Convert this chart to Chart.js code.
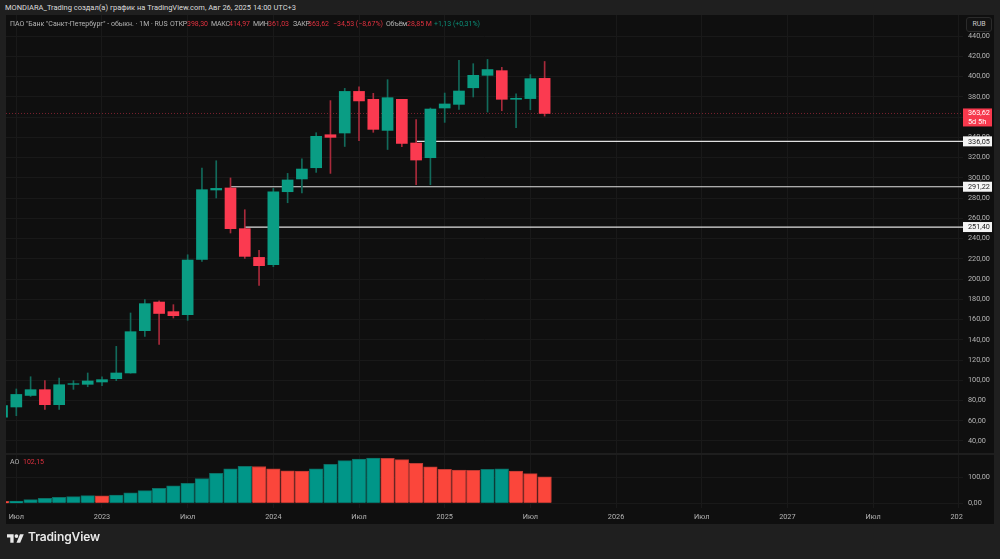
<!DOCTYPE html>
<html lang="ru">
<head>
<meta charset="utf-8">
<title>BSPB 1M</title>
<script src="https://cdn.jsdelivr.net/npm/chart.js@4"></script>
<style>
  html, body { margin: 0; background: #1f1f1f; overflow: hidden; }
  body { width: 1000px; height: 559px; position: relative; font-family: Roboto, sans-serif; }
  #panel { position: absolute; left: 6px; top: 15px; width: 988px; height: 509px; background: #0f0f0f; }
  #panel canvas { position: absolute; left: 0; top: 0; }
  .txt { position: absolute; white-space: nowrap; font-size: 7px; line-height: 10px; }
  .dim { color: #b4b4b4; }
  .cap { letter-spacing: -0.2px; }
  .red { color: #e0313f; }
  .grn { color: #0b8f78; }
  #byline { left: 5px; top: 3px; color: #dcdcdc; font-size: 7.5px; }
  #rub { position: absolute; left: 960px; top: 2px; width: 26px; height: 15px; box-sizing: border-box;
         border: 1px solid #2b2b2b; border-radius: 3px; background: #121212; color: #c8c8c8;
         font-size: 7px; line-height: 13px; text-align: center; }
  #brand { position: absolute; left: 7px; top: 530px; display: flex; align-items: center; color: #e8e8e8;
           font: 600 12px/14px Inter, sans-serif; letter-spacing: -0.1px; }
  #brand svg { width: 17px; height: 11px; margin-right: 4px; fill: #e8e8e8; }
</style>
</head>
<body>
<div class="txt" id="byline">MONDIARA_Trading создал(а) график на TradingView.com, Авг 26, 2025 14:00 UTC+3</div>
<div id="panel">
  <canvas id="chart" width="988" height="509"></canvas>
  <div class="txt dim" style="left:4px;top:4px">ПАО "Банк "Санкт-Петербург" - обыкн. · 1М · RUS</div>
  <div class="txt dim cap" style="left:164px;top:4px">ОТКР</div><div class="txt red" style="left:181px;top:4px">398,30</div>
  <div class="txt dim cap" style="left:205px;top:4px">МАКС</div><div class="txt red" style="left:223px;top:4px">414,97</div>
  <div class="txt dim cap" style="left:247px;top:4px">МИН</div><div class="txt red" style="left:262px;top:4px">361,03</div>
  <div class="txt dim cap" style="left:287px;top:4px">ЗАКР</div><div class="txt red" style="left:302px;top:4px">363,62</div>
  <div class="txt red" style="left:327px;top:4px">−34,53 (−8,67%)</div>
  <div class="txt dim cap" style="left:380px;top:4px">Объём</div><div class="txt red" style="left:401px;top:4px">28,85 М</div>
  <div class="txt grn" style="left:428px;top:4px">+1,13 (+0,31%)</div>
  <div class="txt dim" style="left:4px;top:442px">AO</div><div class="txt red" style="left:17px;top:442px">102,15</div>
  <div id="rub">RUB</div>
</div>
<div id="brand">
  <svg viewBox="0 0 36 22"><path d="M14 22H7V11H0V4h14v18ZM28 22h-8l7.5-18h8L28 22Z"/><circle cx="20" cy="8" r="4"/></svg>
  TradingView
</div>

<script>
(function() {
  'use strict';

  // monthly candles, Jun 2022 .. Aug 2025
  var opens  = [63.5, 73.6, 85, 90.7, 75.9, 96, 96, 98.3, 101.6, 107.2, 149, 177.3, 167.8, 164.8, 219.4, 288, 290, 249.8, 221.4, 214.3,
                286.3, 298.9, 310, 342.6, 344.3, 385.4, 377.6, 346.9, 377.6, 334.4, 319.9, 369, 372.6, 389, 401.3, 405.9, 377.6, 378.3, 398.3];
  var highs  = [75, 91.4, 103.5, 99.6, 102.2, 99.6, 107.2, 103.5, 133.5, 166.5, 179.6, 178.6, 174.7, 224, 309.7, 316.9, 299.9, 268.5, 228.3, 289.6,
                304.4, 318.9, 344.6, 376.3, 388.4, 390, 383.5, 397, 377.6, 357.5, 369, 383.8, 416, 412.8, 417, 409.2, 382.9, 402, 414.97];
  var lows   = [63, 65, 84, 71.3, 71.3, 91, 93.6, 94.6, 99.6, 107, 143.3, 135.4, 161.5, 159.2, 217.5, 280.1, 245.5, 220.4, 193.7, 212.2,
                275.4, 285, 305.4, 304.4, 331, 336.7, 345, 328, 330.8, 293.2, 293.2, 354.8, 367.6, 379.9, 365, 366.3, 349.6, 367.3, 361.03];
  var closes = [75, 86, 90.7, 75.9, 95.6, 96.6, 99.3, 100.6, 107.2, 148, 175.7, 166, 163.8, 218.8, 288.3, 289.6, 249.8, 222.4, 213.2, 286.3,
                297.9, 308.7, 341, 340, 385.4, 376, 347.9, 379.2, 334, 317.6, 368, 373, 385.8, 401.3, 407, 377.6, 378.6, 398, 363.62];

  // awesome oscillator, one value per candle
  var aoValues = [8, 9, 14, 19, 23, 26, 29.5, 29, 32, 40, 49, 58, 67, 77, 95, 115, 133, 142.5, 141.5, 133, 125, 124,
                  133, 150, 164, 170.5, 173.5, 173, 168, 154, 140, 131, 128, 127, 131, 133, 124, 114, 102.15];

  var levelValues = [336.05, 291.22, 251.40];
  var levelStarts = [29, 16, 17];
  var lastClose = 363.62;

  var timePositions = [1, 7, 13, 19, 25, 31, 37, 43, 49, 55, 61, 67];
  var timeLabels = ['Июл', '2023', 'Июл', '2024', 'Июл', '2025', 'Июл', '2026', 'Июл', '2027', 'Июл', '2028'];
  var priceTicks = [40, 60, 80, 100, 120, 140, 160, 180, 200, 220, 240, 260, 280, 300, 320, 340, 360, 380, 400, 420, 440];
  var aoTicks = [0, 100];

  var UP = '#0a9d84';
  var DOWN = '#fb3a50';
  var UP_WICK = '#126a5b';
  var DOWN_WICK = '#a92a3b';
  var AO_UP = '#009688';
  var AO_DOWN = '#fb463b';
  var GRID = '#191919';
  var PANEL = '#0f0f0f';
  var TEXT = '#b4b4b4';
  var FONT = 'Roboto, sans-serif';
  var X_MIN = 0.277;
  var X_MAX = 67.3;

  function comma(v) {
    return v.toFixed(2).replace('.', ',');
  }

  function isUp(i) {
    return closes[i] >= opens[i];
  }

  function fixedTicks(list) {
    return function(scale) {
      scale.ticks = list.map(function(v) { return { value: v }; });
    };
  }

  function yTicks() {
    return { autoSkip: false, padding: 5, color: TEXT, font: { family: FONT, size: 7.3 }, callback: comma };
  }

  // fixed column width, no extra room reserved for the outer tick labels
  function priceColumn(scale) {
    scale.width = 31;
    scale.paddingTop = 0;
    scale.paddingBottom = 0;
  }

  function timeRow(scale) {
    scale.height = 16;
    scale.paddingLeft = 0;
    scale.paddingRight = 0;
  }

  var wicks = highs.map(function(h, i) { return { x: i, y: [lows[i], h] }; });
  var bodies = opens.map(function(o, i) { return { x: i, y: [o, closes[i]] }; });
  var ao = aoValues.map(function(v, i) { return { x: i, y: v }; });

  var datasets = [
    {
      label: 'wicks', data: wicks, yAxisID: 'y', order: 3, grouped: false, barThickness: 1,
      backgroundColor: wicks.map(function(p, i) { return isUp(i) ? UP_WICK : DOWN_WICK; })
    },
    {
      label: 'bodies', data: bodies, yAxisID: 'y', order: 2, grouped: false, barThickness: 11,
      backgroundColor: bodies.map(function(p, i) { return isUp(i) ? UP : DOWN; })
    },
    {
      label: 'AO', data: ao, yAxisID: 'y2', order: 2, grouped: false, barThickness: 13.6,
      borderWidth: 1,
      borderColor: aoValues.map(function(v, i) { return i > 0 && v >= aoValues[i - 1] ? '#0b6f65' : '#bb3a33'; }),
      backgroundColor: aoValues.map(function(v, i) { return i > 0 && v >= aoValues[i - 1] ? AO_UP : AO_DOWN; })
    },
    {
      type: 'line', label: 'last', yAxisID: 'y', order: 5, pointRadius: 0,
      borderColor: '#7c2230', borderWidth: 1, borderDash: [1, 2],
      data: [{ x: X_MIN, y: lastClose }, { x: X_MAX, y: lastClose }]
    }
  ];

  levelValues.forEach(function(v, i) {
    datasets.push({
      type: 'line', label: 'level ' + comma(v), yAxisID: 'y', order: 4, pointRadius: 0,
      borderColor: '#e0e0e0', borderWidth: 1.2,
      data: [{ x: levelStarts[i], y: v }, { x: X_MAX, y: v }]
    });
  });

  // pane divider, and a cover so the last date label stops at the price column
  var paneChrome = {
    id: 'paneChrome',
    beforeDatasetsDraw: function(chart) {
      var c = chart.ctx;
      c.fillStyle = '#1e1e1e';
      c.fillRect(0, chart.scales.y.bottom - 1, chart.width, 2);
    },
    afterDraw: function(chart) {
      var c = chart.ctx;
      var area = chart.chartArea;
      c.fillStyle = PANEL;
      c.fillRect(area.right, area.bottom, chart.width - area.right, chart.height - area.bottom);
    }
  };

  // value tags in the price column
  var priceTags = {
    id: 'priceTags',
    afterDraw: function(chart) {
      var c = chart.ctx;
      var y = chart.scales.y;
      var left = chart.chartArea.right;
      var w = 29;
      c.save();
      c.textBaseline = 'middle';
      c.textAlign = 'left';
      c.font = '7.3px ' + FONT;
      levelValues.forEach(function(v) {
        var py = y.getPixelForValue(v);
        c.fillStyle = '#f4f4f4';
        c.fillRect(left, py - 5, w, 10);
        c.fillStyle = '#1c1c1c';
        c.fillText(comma(v), left + 5, py + 0.5);
      });
      var py = y.getPixelForValue(lastClose);
      c.fillStyle = '#f7394d';
      c.fillRect(left, py - 5, w, 18);
      c.fillStyle = '#ffffff';
      c.fillText(comma(lastClose), left + 5, py);
      c.fillText('5d 5h', left + 5, py + 8.5);
      c.restore();
    }
  };

  new Chart(document.getElementById('chart'), {
    type: 'bar',
    data: { datasets: datasets },
    plugins: [paneChrome, priceTags],
    options: {
      responsive: false,
      animation: false,
      devicePixelRatio: 1,
      layout: { padding: 0 },
      plugins: { legend: { display: false }, tooltip: { enabled: false } },
      scales: {
        x: {
          type: 'linear', min: X_MIN, max: X_MAX, offset: false,
          afterBuildTicks: fixedTicks(timePositions),
          afterFit: timeRow,
          grid: { color: GRID, drawTicks: false, offset: false },
          border: { display: false },
          ticks: {
            autoSkip: false, maxRotation: 0, padding: 5, color: TEXT,
            font: { family: FONT, size: 7.3 },
            callback: function(v) { return timeLabels[timePositions.indexOf(v)]; }
          }
        },
        y: {
          type: 'linear', position: 'right', stack: 'panes', stackWeight: 439,
          min: 27.15, max: 460.9,
          afterBuildTicks: fixedTicks(priceTicks),
          afterFit: priceColumn,
          grid: { color: GRID, drawTicks: false },
          border: { display: false },
          ticks: yTicks()
        },
        y2: {
          type: 'linear', position: 'right', stack: 'panes', stackWeight: 54,
          min: -18, max: 189.6,
          afterBuildTicks: fixedTicks(aoTicks),
          afterFit: priceColumn,
          grid: { color: GRID, drawTicks: false },
          border: { display: false },
          ticks: yTicks()
        }
      }
    }
  });
}());
</script>
</body>
</html>
